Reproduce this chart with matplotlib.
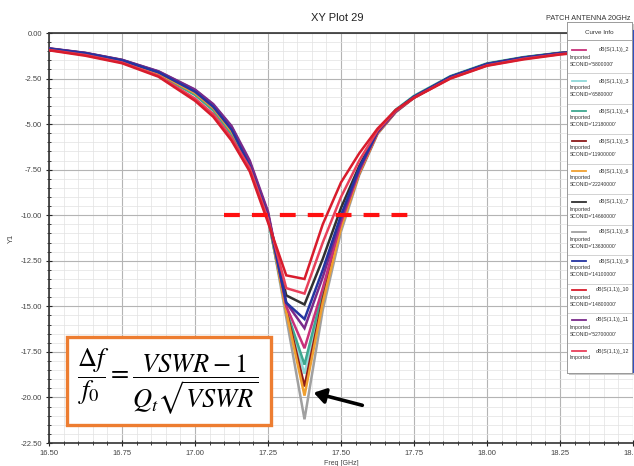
import matplotlib
matplotlib.use("Agg")
import matplotlib.pyplot as plt
from matplotlib.patches import Rectangle, FancyArrowPatch
from matplotlib.ticker import MultipleLocator, FixedLocator
import numpy as np

plt.rcParams['font.family'] = ['Liberation Sans', 'DejaVu Sans']
plt.rcParams['mathtext.fontset'] = 'stix'

# ---------------- data ----------------
freq = [16.50, 16.625, 16.75, 16.875, 17.00, 17.0625, 17.125, 17.1875, 17.25,
        17.3125, 17.375, 17.4375, 17.50, 17.5625, 17.625, 17.6875, 17.75,
        17.875, 18.00, 18.125, 18.25, 18.375, 18.50]

curve_names = ["dB(S(1,1))_2", "dB(S(1,1))_3", "dB(S(1,1))_4", "dB(S(1,1))_5",
               "dB(S(1,1))_6", "dB(S(1,1))_7", "dB(S(1,1))_8", "dB(S(1,1))_9",
               "dB(S(1,1))_10", "dB(S(1,1))_11", "dB(S(1,1))_12"]
curve_info = ["SCONID='5800000'", "SCONID='6580000'", "SCONID='12180000'",
              "SCONID='11900000'", "SCONID='22240000'", "SCONID='14660000'",
              "SCONID='13630000'", "SCONID='14100000'", "SCONID='14800000'",
              "SCONID='52700000'", ""]
curve_colors = ["#c8307a", "#8fd8d8", "#3fa890", "#8b1a1a", "#f0a030", "#303030",
                "#a0a0a0", "#2434a0", "#d81c2c", "#7a2a8a", "#e8405a"]

s11_2 = [-0.86, -1.11, -1.50, -2.15, -3.18, -4.00, -5.20, -7.1, -9.9, -15.0, -17.3, -14.0, -10.4, -7.6,
         -5.45, -4.30, -3.52, -2.42, -1.72, -1.36, -1.12, -0.96, -0.86]
s11_3 = [-0.90, -1.15, -1.55, -2.25, -3.35, -4.20, -5.50, -7.3, -10.1, -15.3, -18.7, -14.4, -10.4, -7.5,
         -5.35, -4.20, -3.45, -2.36, -1.66, -1.32, -1.08, -0.93, -0.83]
s11_4 = [-0.90, -1.16, -1.57, -2.28, -3.40, -4.25, -5.55, -7.4, -10.2, -15.2, -18.2, -14.2, -10.3, -7.4,
         -5.35, -4.22, -3.46, -2.38, -1.68, -1.33, -1.09, -0.94, -0.84]
s11_5 = [-0.88, -1.13, -1.52, -2.20, -3.28, -4.10, -5.35, -7.1, -9.9, -15.2, -19.4, -14.6, -10.6, -7.7,
         -5.50, -4.32, -3.55, -2.44, -1.73, -1.37, -1.12, -0.96, -0.86]
s11_6 = [-0.89, -1.14, -1.54, -2.22, -3.30, -4.12, -5.40, -7.2, -10.0, -15.3, -19.9, -14.8, -10.7, -7.7,
         -5.50, -4.30, -3.52, -2.42, -1.71, -1.35, -1.10, -0.95, -0.85]
s11_7 = [-0.85, -1.10, -1.48, -2.12, -3.13, -3.95, -5.15, -7.2, -10.0, -14.4, -14.9, -12.4, -9.6, -7.3,
         -5.40, -4.26, -3.50, -2.40, -1.70, -1.35, -1.10, -0.95, -0.85]
s11_8 = [-0.90, -1.15, -1.56, -2.26, -3.36, -4.20, -5.50, -7.2, -10.0, -15.6, -21.2, -15.2, -10.9, -7.8,
         -5.55, -4.35, -3.56, -2.44, -1.72, -1.36, -1.11, -0.96, -0.86]
s11_9 = [-0.86, -1.11, -1.50, -2.16, -3.22, -4.05, -5.30, -7.3, -10.1, -14.8, -15.7, -13.0, -10.0, -7.4,
         -5.40, -4.25, -3.50, -2.40, -1.70, -1.35, -1.10, -0.95, -0.85]
s11_10 = [-0.95, -1.25, -1.66, -2.40, -3.72, -4.60, -5.90, -7.6, -10.4, -13.3, -13.5, -10.5, -8.2, -6.6,
          -5.25, -4.22, -3.56, -2.50, -1.80, -1.45, -1.18, -1.00, -0.90]
s11_11 = [-0.84, -1.09, -1.47, -2.10, -3.10, -3.90, -5.10, -7.0, -9.8, -14.8, -16.2, -13.4, -10.2, -7.5,
          -5.45, -4.30, -3.52, -2.42, -1.72, -1.36, -1.12, -0.96, -0.86]
s11_12 = [-0.93, -1.21, -1.62, -2.35, -3.60, -4.45, -5.75, -7.4, -10.2, -14.0, -14.3, -11.5, -9.0, -7.0,
          -5.35, -4.26, -3.55, -2.48, -1.78, -1.42, -1.16, -0.99, -0.89]

curves = [s11_2, s11_3, s11_4, s11_5, s11_6, s11_7, s11_8, s11_9, s11_10, s11_11, s11_12]

x_ticks = [16.50, 16.75, 17.00, 17.25, 17.50, 17.75, 18.00, 18.25, 18.50]
y_ticks = [0.0, -2.5, -5.0, -7.5, -10.0, -12.5, -15.0, -17.5, -20.0, -22.5]

# ---------------- figure ----------------
W, H = 634, 466
fig = plt.figure(figsize=(W / 100, H / 100), dpi=100)

def px_rect(x0, y0, x1, y1):
    return [x0 / W, (H - y1) / H, (x1 - x0) / W, (y1 - y0) / H]

ax = fig.add_axes(px_rect(49, 33, 633, 443))
ax.set_xlim(16.5, 18.5)
ax.set_ylim(-22.5, 0.0)

ax.xaxis.set_major_locator(FixedLocator(x_ticks))
ax.xaxis.set_minor_locator(MultipleLocator(0.05))
ax.yaxis.set_major_locator(FixedLocator(y_ticks))
ax.yaxis.set_minor_locator(MultipleLocator(0.5))
ax.set_xticklabels([f"{v:.2f}" for v in x_ticks])
ax.set_yticklabels([f"{v:.2f}" for v in y_ticks])

ax.grid(which='major', color='#b4b4b4', lw=0.8, zorder=0)
ax.grid(which='minor', color='#e2e2e2', lw=0.5, zorder=0)
ax.set_axisbelow(True)

ax.tick_params(which='major', direction='inout', length=4, width=0.8, colors='#222222',
               labelsize=5.5, labelcolor='#444444', pad=3)
ax.tick_params(which='minor', direction='inout', length=2.5, width=0.6, colors='#222222')
for s in ['left', 'bottom', 'top']:
    ax.spines[s].set_color('#333333')
    ax.spines[s].set_linewidth(1.2)
ax.spines['right'].set_visible(False)

for i in [6, 1, 2, 3, 4, 5, 0, 9, 7, 10, 8]:
    ax.plot(freq, curves[i], color=curve_colors[i], lw=1.8, zorder=3,
            solid_joinstyle='miter')

ax.set_ylabel("Y1", fontsize=5.5, color='#444444', labelpad=4)
ax.set_xlabel("Freq [GHz]", fontsize=5, color='#444444', labelpad=2)

# -10 dB marker
ax.hlines(-10.0, 17.10, 17.73, colors='#ff1010', lw=3,
          linestyles=(0, (3.8, 2.9)), zorder=5)

# titles
fig.text(337 / W, 1 - 18 / H, "XY Plot 29", ha='center', va='center', fontsize=8, color='#222222')
fig.text(630 / W, 1 - 18 / H, "PATCH ANTENNA 20GHz", ha='right', va='center', fontsize=5.2,
         color='#333333')

# formula box
fig.patches.append(Rectangle((67 / W, 1 - 425 / H), 204 / W, 88 / H, transform=fig.transFigure,
                             facecolor='white', edgecolor='#ed7d31', lw=2.4, zorder=10))
fig.text(168 / W, 1 - 382 / H, r"$\dfrac{\Delta f}{f_0}=\dfrac{VSWR-1}{Q_t\sqrt{VSWR}}$",
         ha='center', va='center', fontsize=19, color='black', zorder=11)

# arrow
arr = FancyArrowPatch((365 / W, 1 - 406 / H), (311 / W, 1 - 392 / H), transform=fig.transFigure,
                      arrowstyle='-|>,head_length=7,head_width=4.5', color='black', lw=2.6,
                      mutation_scale=1, zorder=12)
fig.patches.append(arr)

# legend panel
shadow = fig.add_axes(px_rect(569, 24, 634, 375))
shadow.set_facecolor('#c8c8c8')
shadow.set_xticks([]); shadow.set_yticks([])
for s in shadow.spines.values():
    s.set_visible(False)
lg = fig.add_axes(px_rect(567, 22, 632, 373))
lg.set_xlim(0, 65)
lg.set_ylim(351, 0)
lg.set_xticks([]); lg.set_yticks([])
lg.set_facecolor('white')
for s in lg.spines.values():
    s.set_color('#9a9a9a'); s.set_linewidth(0.7)
lg.text(32, 11, "Curve Info", ha='center', va='center', fontsize=4.5, color='#333333')
lg.axhline(18, color='#9a9a9a', lw=0.6)
entry_y = [28, 59, 89, 119, 149, 180, 210, 239, 268, 298, 329]
for k, yy in enumerate(entry_y):
    lg.plot([5, 19], [yy, yy], color=curve_colors[k], lw=1.3)
    lg.text(62, yy, curve_names[k], ha='right', va='center', fontsize=3.8, color='#333333')
    lg.text(3, yy + 7, "Imported", ha='left', va='center', fontsize=3.8, color='#333333')
    if curve_info[k]:
        lg.text(3, yy + 14, curve_info[k], ha='left', va='center', fontsize=3.6, color='#333333')
    if k < len(entry_y) - 1:
        lg.axhline(yy + 23, color='#c0c0c0', lw=0.5)
fig.lines.append(plt.Line2D([632.5 / W, 632.5 / W], [1 - 372 / H, 1 - 30 / H],
                            transform=fig.transFigure, color='#3050c0', lw=0.8))

fig.savefig("out.png", dpi=100, facecolor='white')
